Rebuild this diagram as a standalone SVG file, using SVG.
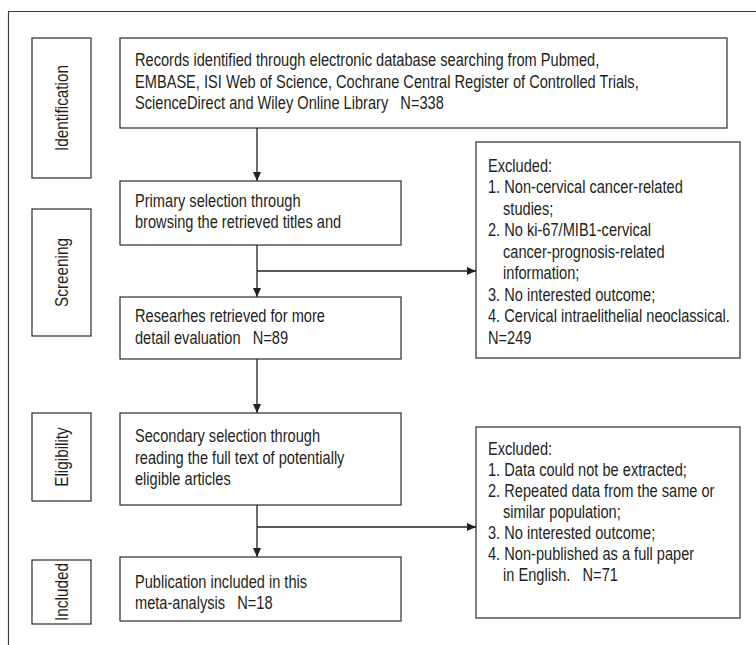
<svg xmlns="http://www.w3.org/2000/svg" width="756" height="645" viewBox="0 0 756 645">
<style>
.box{fill:#fff;stroke:#3c3c3c;stroke-width:1.3}
.frame{fill:none;stroke:#3c3c3c;stroke-width:1.2}
.t{font-family:"Liberation Sans",Arial,sans-serif;font-size:17.5px;fill:#231f20;white-space:pre}
.st{font-family:"Liberation Sans",Arial,sans-serif;font-size:18px;fill:#231f20;text-anchor:middle}
.con{fill:none;stroke:#231f20;stroke-width:1.3}
</style>
<defs>
<marker id="arr" markerUnits="userSpaceOnUse" markerWidth="10" markerHeight="8" refX="9" refY="4" orient="auto">
<path d="M0,0 L9,4 L0,8 Z" fill="#231f20"/>
</marker>
</defs>
<rect width="756" height="645" fill="#fff"/>
<polyline class="frame" points="8.5,645 8.5,11.5 756,11.5"/>

<g id="stage-identification">
<rect class="box" x="32" y="38" width="59" height="140"/>
<text class="st" transform="translate(61.5 108) rotate(-90) scale(0.85 1)" x="0" y="6.5">Identification</text>
</g>
<g id="stage-screening">
<rect class="box" x="32" y="209" width="59" height="127"/>
<text class="st" transform="translate(61.5 272.5) rotate(-90) scale(0.85 1)" x="0" y="6.5">Screening</text>
</g>
<g id="stage-eligibility">
<rect class="box" x="32" y="413" width="59" height="88"/>
<text class="st" transform="translate(61.5 457) rotate(-90) scale(0.85 1)" x="0" y="6.5">Eligibility</text>
</g>
<g id="stage-included">
<rect class="box" x="32" y="560" width="59" height="64"/>
<text class="st" transform="translate(61.5 592) rotate(-90) scale(0.85 1)" x="0" y="6.5">Included</text>
</g>

<g id="records">
<rect class="box" x="120" y="38" width="607" height="90"/>
<text class="t" transform="translate(135 0) scale(0.835 1)"><tspan x="0" y="66.5">Records identified through electronic database searching from Pubmed,</tspan><tspan x="0" y="88">EMBASE, ISI Web of Science, Cochrane Central Register of Controlled Trials,</tspan><tspan x="0" y="109.5">ScienceDirect and Wiley Online Library   N=338</tspan></text>
</g>
<g id="primary">
<rect class="box" x="120" y="181" width="281" height="64"/>
<text class="t" transform="translate(135 0) scale(0.835 1)"><tspan x="0" y="207">Primary selection through</tspan><tspan x="0" y="228.5">browsing the retrieved titles and</tspan></text>
</g>
<g id="researches">
<rect class="box" x="120" y="297" width="281" height="62"/>
<text class="t" transform="translate(135 0) scale(0.835 1)"><tspan x="0" y="322.5">Researhes retrieved for more</tspan><tspan x="0" y="344">detail evaluation   N=89</tspan></text>
</g>
<g id="secondary">
<rect class="box" x="120" y="413" width="281" height="92"/>
<text class="t" transform="translate(135 0) scale(0.835 1)"><tspan x="0" y="442.5">Secondary selection through</tspan><tspan x="0" y="464">reading the full text of potentially</tspan><tspan x="0" y="485.5">eligible articles</tspan></text>
</g>
<g id="publication">
<rect class="box" x="120" y="557" width="281" height="64"/>
<text class="t" transform="translate(135 0) scale(0.835 1)"><tspan x="0" y="588">Publication included in this</tspan><tspan x="0" y="609.5">meta-analysis   N=18</tspan></text>
</g>
<g id="excluded-1">
<rect class="box" x="476" y="142" width="264" height="216"/>
<text class="t" transform="translate(488 0) scale(0.835 1)"><tspan x="0" y="172">Excluded:</tspan><tspan x="0" y="193.5">1. Non-cervical cancer-related</tspan><tspan x="18" y="215">studies;</tspan><tspan x="0" y="236.5">2. No ki-67/MIB1-cervical</tspan><tspan x="18" y="258">cancer-prognosis-related</tspan><tspan x="18" y="279.5">information;</tspan><tspan x="0" y="301">3. No interested outcome;</tspan><tspan x="0" y="322.5">4. Cervical intraelithelial neoclassical.</tspan><tspan x="0" y="344">N=249</tspan></text>
</g>
<g id="excluded-2">
<rect class="box" x="476" y="427" width="264" height="191"/>
<text class="t" transform="translate(488 0) scale(0.835 1)"><tspan x="0" y="455">Excluded:</tspan><tspan x="0" y="476">1. Data could not be extracted;</tspan><tspan x="0" y="497">2. Repeated data from the same or</tspan><tspan x="18" y="518">similar population;</tspan><tspan x="0" y="539">3. No interested outcome;</tspan><tspan x="0" y="560">4. Non-published as a full paper</tspan><tspan x="18" y="581">in English.   N=71</tspan></text>
</g>

<g id="connectors">
<line class="con" x1="257" y1="128" x2="257" y2="181" marker-end="url(#arr)"/>
<line class="con" x1="257" y1="245" x2="257" y2="297" marker-end="url(#arr)"/>
<line class="con" x1="257" y1="271" x2="476" y2="271" marker-end="url(#arr)"/>
<line class="con" x1="257" y1="359" x2="257" y2="413" marker-end="url(#arr)"/>
<line class="con" x1="257" y1="505" x2="257" y2="557" marker-end="url(#arr)"/>
<line class="con" x1="257" y1="527" x2="476" y2="527" marker-end="url(#arr)"/>
</g>
</svg>
